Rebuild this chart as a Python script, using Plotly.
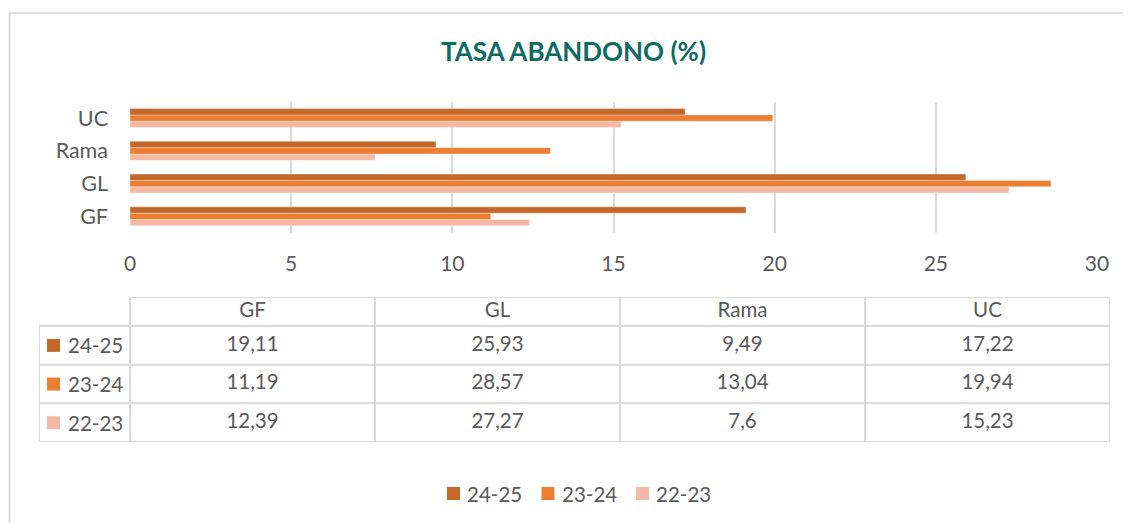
import plotly.graph_objects as go

# ---------------- data ----------------
categories = ["GF", "GL", "Rama", "UC"]
series_names = ["24-25", "23-24", "22-23"]
vals_2425 = [19.11, 25.93, 9.49, 17.22]
vals_2324 = [11.19, 28.57, 13.04, 19.94]
vals_2223 = [12.39, 27.27, 7.6, 15.23]
x_ticks = [0, 5, 10, 15, 20, 25, 30]
title_text = "TASA ABANDONO (%)"

# ---------------- style ----------------
OFF = 8                      # browser body margin
W, H = 1131 - OFF, 523 - OFF
FONT = "Lato"
TXT = "#595959"
GRID = "#D9D9D9"
colors = {"24-25": "#C4672B", "23-24": "#ED7D31", "22-23": "#F4B8A3"}
series_vals = {"24-25": vals_2425, "23-24": vals_2324, "22-23": vals_2223}

def px_x(p):
    return (p - OFF) / W

def px_y(p):
    return 1 - (p - OFF) / H

def fmt(v):
    return f"{v:g}".replace(".", ",")

fig = go.Figure()

# bars: add bottom-most first so 24-25 ends on top in each group
for name in ["22-23", "23-24", "24-25"]:
    fig.add_trace(go.Bar(
        y=categories, x=series_vals[name], name=name, orientation="h",
        marker=dict(color=colors[name], line=dict(width=0.6, color="rgba(255,255,255,0.6)")),
        showlegend=False, hoverinfo="skip", xaxis="x", yaxis="y",
    ))

# ---------------- data table (second axes) ----------------
HDR = 29 / 38.5           # header height relative to row height
RH_LEFT = -91 / 245       # row-header column width in column units
table_rows = {name: i for i, name in enumerate(series_names)}

fig.add_trace(go.Scatter(
    x=[i + 0.5 for i in range(len(categories))],
    y=[-0.5 - HDR / 2] * len(categories),
    text=categories, mode="text",
    textfont=dict(family=FONT, size=20.5, color=TXT),
    showlegend=False, hoverinfo="skip", xaxis="x2", yaxis="y2",
))
for name in series_names:
    r = table_rows[name]
    fig.add_trace(go.Scatter(
        x=[i + 0.5 for i in range(len(categories))],
        y=[r] * len(categories),
        text=[fmt(v) for v in series_vals[name]], mode="text",
        textfont=dict(family=FONT, size=20.5, color=TXT),
        showlegend=False, hoverinfo="skip", xaxis="x2", yaxis="y2",
    ))
fig.add_trace(go.Scatter(
    x=[(53.5 - 130) / 245] * len(series_names),
    y=[table_rows[n] for n in series_names],
    mode="markers",
    marker=dict(symbol="square", size=13, color=[colors[n] for n in series_names], line=dict(width=0)),
    showlegend=False, hoverinfo="skip", xaxis="x2", yaxis="y2",
))

shapes = []
line_style = dict(color=GRID, width=2)
ncol = len(categories)
shapes.append(dict(type="line", xref="x2", yref="y2", x0=0, x1=ncol, y0=-0.5 - HDR, y1=-0.5 - HDR, line=line_style))
for yv in [-0.5, 0.5, 1.5, 2.5]:
    shapes.append(dict(type="line", xref="x2", yref="y2", x0=RH_LEFT, x1=ncol, y0=yv, y1=yv, line=line_style))
shapes.append(dict(type="line", xref="x2", yref="y2", x0=RH_LEFT, x1=RH_LEFT, y0=-0.5, y1=2.5, line=line_style))
for xv in range(ncol + 1):
    shapes.append(dict(type="line", xref="x2", yref="y2", x0=xv, x1=xv, y0=-0.5 - HDR, y1=2.5, line=line_style))

# chart border
shapes.append(dict(type="rect", xref="paper", yref="paper",
                   x0=px_x(9.5), x1=px_x(1131 + 20), y0=px_y(523 + 20), y1=px_y(13),
                   line=dict(color="#DCDCDC", width=2), fillcolor="rgba(0,0,0,0)", layer="below"))

annotations = []
for name in series_names:
    annotations.append(dict(x=(66 - 130) / 245, y=table_rows[name], xref="x2", yref="y2",
                            text=name, showarrow=False, xanchor="left", yanchor="middle",
                            font=dict(family=FONT, size=20.5, color=TXT)))

# bottom legend (custom)
legend_sq_x = [447, 541.5, 636]
legend_y = 493.5
for name, sx in zip(series_names, legend_sq_x):
    shapes.append(dict(type="rect", xref="paper", yref="paper",
                       x0=px_x(sx), x1=px_x(sx + 13), y0=px_y(legend_y + 6.5), y1=px_y(legend_y - 6.5),
                       fillcolor=colors[name], line=dict(width=0)))
    annotations.append(dict(x=px_x(sx + 18), y=px_y(legend_y), xref="paper", yref="paper",
                            text=name, showarrow=False, xanchor="left", yanchor="middle",
                            font=dict(family=FONT, size=20.5, color=TXT)))

# title
annotations.append(dict(x=px_x(573.5), y=px_y(51), xref="paper", yref="paper",
                        text=f"<b>{title_text}</b>", showarrow=False, xanchor="center", yanchor="middle",
                        font=dict(family=FONT, size=26, color="#0C6B63")))

fig.update_layout(
    width=W, height=H,
    margin=dict(l=0, r=0, t=0, b=0),
    paper_bgcolor="white", plot_bgcolor="white",
    barmode="group", bargap=0.42, bargroupgap=0,
    showlegend=False,
    xaxis=dict(domain=[px_x(130), px_x(1097)], range=[0, 30], tickvals=x_ticks,
               showgrid=True, gridcolor=GRID, gridwidth=1.5, zeroline=False, showline=False,
               ticks="", ticklabelstandoff=16,
               tickfont=dict(family=FONT, size=21, color=TXT), anchor="y", automargin=False),
    yaxis=dict(domain=[px_y(232.7), px_y(101.7)], type="category", categoryarray=categories,
               categoryorder="array", range=[-0.5, 3.5], showgrid=False, zeroline=False, showline=False,
               ticks="", ticklabelstandoff=21,
               tickfont=dict(family=FONT, size=21.5, color=TXT), anchor="x", automargin=False),
    xaxis2=dict(domain=[px_x(39), px_x(1110)], range=[RH_LEFT, ncol], visible=False,
                anchor="y2", fixedrange=True),
    yaxis2=dict(domain=[px_y(442), px_y(297)], range=[2.5, -0.5 - HDR], visible=False,
                anchor="x2", fixedrange=True),
    shapes=shapes,
    annotations=annotations,
)

fig.write_html("out.html", config=dict(displayModeBar=False))
